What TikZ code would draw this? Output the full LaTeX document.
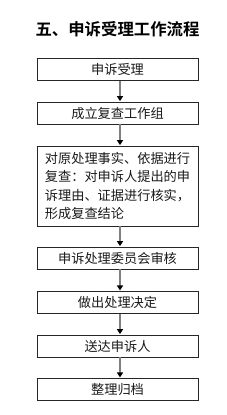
\documentclass[tikz,border=0pt]{standalone}
\usepackage{fontspec}
\newfontfamily\cjk{Noto Sans CJK SC}
\newfontfamily\cjkb{Noto Sans CJK SC Bold}
\usetikzlibrary{arrows.meta}
\tikzset{
  flowbox/.style={draw=black!85, line width=0.9pt, minimum width=161pt, inner sep=0pt, font=\cjk\fontsize{13.2}{18.5}\selectfont, text=black!90},
  flowarrow/.style={draw=black!50, line width=1.4pt, -{Triangle[length=5pt,width=6pt,color=black]}, shorten >=0.4pt}
}
\begin{document}
\begin{tikzpicture}[x=1pt,y=1pt]
\useasboundingbox (0,0) rectangle (226,-415);
\node[font=\cjkb\fontsize{16.4}{18}\selectfont] (title) at (117.5,-29) {五、申诉受理工作流程};
\node[flowbox, minimum height=22pt] (b1) at (117.5,-69.3) {申诉受理};
\node[flowbox, minimum height=22pt] (b2) at (117.5,-113) {成立复查工作组};
\node[flowbox, minimum height=80pt, align=left] (b3) at (117.5,-186) {对原处理事实、依据进行\\复查：对申诉人提出的申\\诉理由、证据进行核实，\\形成复查结论};
\node[flowbox, minimum height=22pt] (b4) at (117.5,-258) {申诉处理委员会审核};
\node[flowbox, minimum height=22pt] (b5) at (117.5,-302.3) {做出处理决定};
\node[flowbox, minimum height=22pt] (b6) at (117.5,-346) {送达申诉人};
\node[flowbox, minimum height=22pt] (b7) at (117.5,-389.3) {整理归档};
\foreach \a/\b in {b1/b2,b2/b3,b3/b4,b4/b5,b5/b6,b6/b7}{
  \draw[flowarrow] (\a.south -| 120,0) -- (\b.north -| 120,0);
}
\end{tikzpicture}
\end{document}
